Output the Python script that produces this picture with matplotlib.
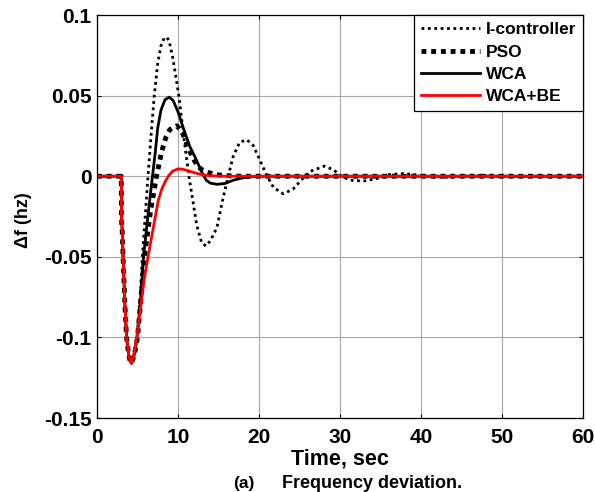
import matplotlib
matplotlib.use('Agg')
import matplotlib.pyplot as plt

plt.rcParams['font.family'] = ['Liberation Sans', 'DejaVu Sans']
plt.rcParams['font.weight'] = 'bold'

# shared start: step load at t=3 s, dip to the minimum
t_start = [0, 3.0, 3.02, 3.1, 3.25, 3.45, 3.65, 3.9, 4.1, 4.28]
f_start = [0, 0, -0.027, -0.032, -0.054, -0.08, -0.1, -0.11, -0.115, -0.116]

t_icont = [4.6, 4.95, 5.3, 5.6, 5.95, 6.3, 6.7, 7.07, 7.5, 7.9, 8.3, 8.6, 8.9, 9.3, 9.7,
           10.1, 10.7, 11.35, 11.7, 12.3, 12.9, 13.45, 14.0, 14.8, 15.5, 16.2, 16.8, 17.6,
           18.5, 19.3, 20.2, 21.0, 21.8, 23.0, 24.2, 25.3, 26.3, 28.1, 29.2, 30.2, 31.3,
           32.9, 34.5, 36.0, 37.8, 39.5, 41.0, 43.2, 45.5, 47.7, 50.0, 52.5, 55.0, 60.0]
f_icont = [-0.11, -0.1, -0.078, -0.05, -0.025, 0, 0.027, 0.05, 0.07, 0.081, 0.0857, 0.0863,
           0.084, 0.075, 0.063, 0.05, 0.025, 0, -0.011, -0.03, -0.041, -0.0433, -0.04,
           -0.032, -0.015, 0, 0.012, 0.021, 0.0226, 0.019, 0.009, 0, -0.007, -0.0109,
           -0.008, -0.002, 0.003, 0.0063, 0.004, 0, -0.0025, -0.003, -0.0015, 0.001, 0.0017,
           0.0008, -0.0003, -0.0006, 0.0001, 0.0005, 0, -0.0002, 0, 0]

t_pso = [4.65, 5.0, 5.45, 5.85, 6.6, 7.35, 7.98, 8.5, 9.0, 9.84, 10.3, 10.65, 11.3, 12.1,
         12.8, 13.5, 14.5, 15.5, 17.0, 18.0, 60.0]
f_pso = [-0.11, -0.1, -0.075, -0.05, -0.022, 0, 0.0152, 0.024, 0.029, 0.0313, 0.029,
         0.0257, 0.017, 0.009, 0.0045, 0.0027, 0.0012, 0.0005, 0.0001, 0, 0]

t_wca = [4.6, 4.95, 5.4, 5.75, 6.3, 6.85, 7.2, 7.5, 7.9, 8.4, 8.93, 9.4, 10.0, 10.65, 11.5,
         12.0, 12.5, 13.0, 13.5, 14.0, 14.8, 15.8, 16.8, 18.0, 19.0, 20.0, 60.0]
f_wca = [-0.111, -0.1, -0.075, -0.05, -0.024, 0, 0.015, 0.03, 0.041, 0.0475, 0.0491, 0.047,
         0.04, 0.03, 0.018, 0.013, 0.0075, 0.002, -0.0025, -0.0043, -0.005, -0.0045,
         -0.0025, -0.001, -0.0003, 0, 0]

t_wcabe = [4.6, 4.9, 5.3, 5.8, 6.3, 6.95, 7.57, 8.0, 8.4, 8.8, 9.3, 10.0, 10.6, 11.5, 12.3,
           13.1, 14.0, 15.0, 16.0, 60.0]
f_wcabe = [-0.109, -0.1, -0.085, -0.065, -0.05, -0.032, -0.015, -0.008, -0.0035, 0, 0.003,
           0.0046, 0.0043, 0.003, 0.0018, 0.0008, 0.0003, 0.0001, 0, 0]

fig = plt.figure(figsize=(5.95, 4.92), dpi=100)
ax = fig.add_axes([0.163, 0.1504, 0.8168, 0.819])

ax.plot(t_start + t_icont, f_start + f_icont, color='black', linestyle=(0, (1, 1.3)),
        lw=2.0, label='I-controller')
ax.plot(t_start + t_pso, f_start + f_pso, color='black', linestyle=(0, (1, 1)),
        lw=3.5, label='PSO')
ax.plot(t_start + t_wca, f_start + f_wca, color='black', lw=2.0, label='WCA')
ax.plot(t_start + t_wcabe, f_start + f_wcabe, color='red', lw=2.0, label='WCA+BE')

ax.set_xlim(0, 60)
ax.set_ylim(-0.15, 0.1)
ax.set_xticks([0, 10, 20, 30, 40, 50, 60])
ax.set_yticks([-0.15, -0.1, -0.05, 0, 0.05, 0.1])
ax.set_yticklabels(['-0.15', '-0.1', '-0.05', '0', '0.05', '0.1'])
ax.tick_params(direction='in', length=3, top=True, right=True, labelsize=15, width=0.8)
ax.tick_params(axis='x', pad=7)
ax.tick_params(axis='y', pad=4)
for lab in ax.get_xticklabels() + ax.get_yticklabels():
    lab.set_fontweight('bold')
ax.grid(True, color='#a6a6a6', lw=0.8)
for s in ax.spines.values():
    s.set_linewidth(0.9)

ax.set_xlabel('Time, sec', fontsize=15.5, fontweight='bold')
ax.xaxis.set_label_coords(0.5, -0.1166)
ax.xaxis.label.set_va('baseline')
ax.set_ylabel('Δf (hz)', fontsize=13, fontweight='bold')
ax.yaxis.set_label_coords(-0.152, 0.49)
ax.yaxis.label.set_va('center')

leg = ax.legend(loc='upper right', prop={'weight': 'bold', 'size': 12.5}, fancybox=False,
                framealpha=1, edgecolor='black', handlelength=3.4, borderaxespad=0.0,
                labelspacing=0.42, borderpad=0.4, handletextpad=0.3)
leg.get_frame().set_linewidth(0.9)

fig.text(0.3916, 0.008, '(a)', ha='left', va='baseline', fontsize=12.5, fontweight='bold')
fig.text(0.474, 0.008, 'Frequency deviation.', ha='left', va='baseline', fontsize=13,
         fontweight='bold')

fig.savefig('out.png', dpi=100)
